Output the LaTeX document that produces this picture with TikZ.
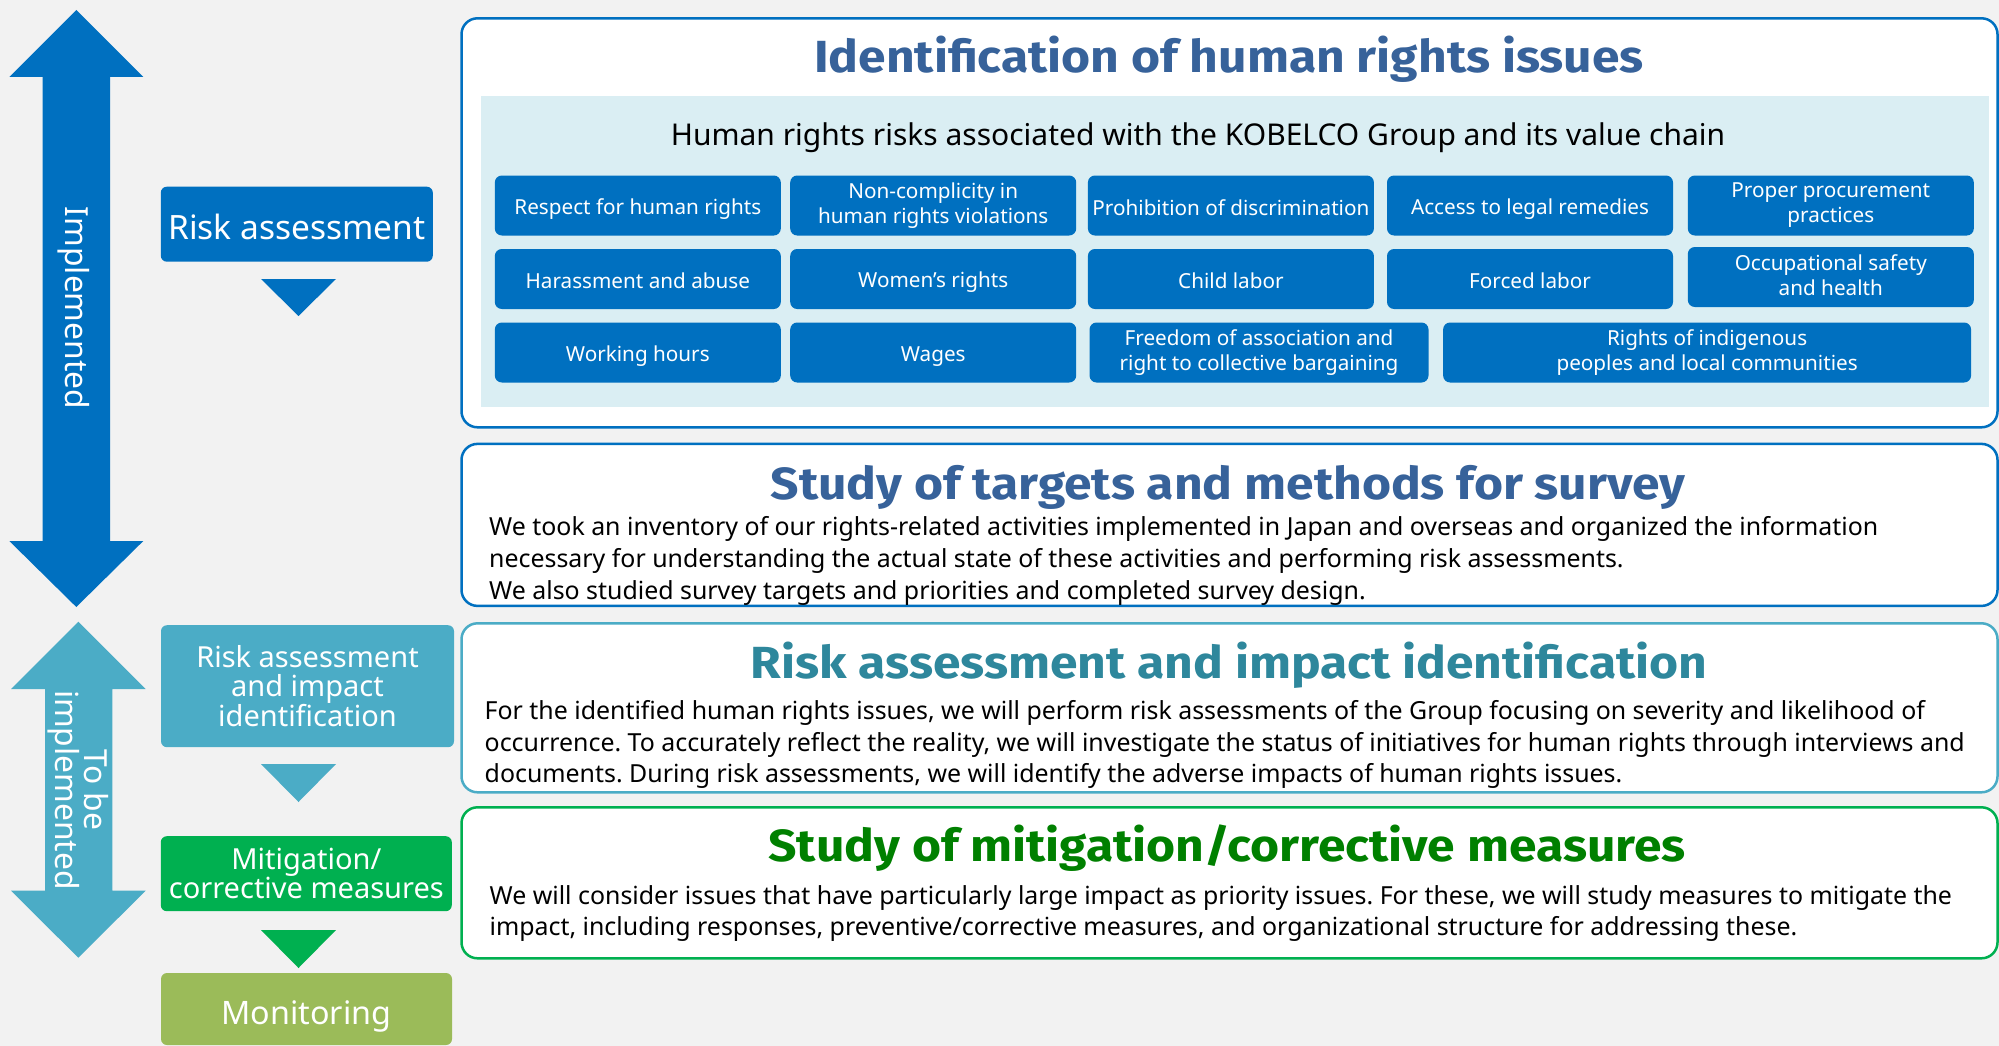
\documentclass[tikz,border=0pt]{standalone}
\usepackage{fontspec}
\setmainfont{Noto Sans}
\newfontfamily\headfont[FakeStretch=1.106]{Fira Sans}
\frenchspacing

\definecolor{kbBack}{HTML}{F2F2F2}
\definecolor{kbBlue}{HTML}{0070C0}
\definecolor{kbTitle}{HTML}{37629A}
\definecolor{kbPanel}{HTML}{DAEEF3}
\definecolor{kbAqua}{HTML}{4BACC6}
\definecolor{kbAquaDark}{HTML}{2E879C}
\definecolor{kbGreen}{HTML}{00B050}
\definecolor{kbGreenDark}{HTML}{008000}
\definecolor{kbOlive}{HTML}{9BBB59}

% fixed line height for the item labels
\newcommand{\itemstrut}{\rule[-3pt]{0pt}{25pt}}
% taller first line for the stage labels
\newcommand{\stagestrut}{\rule{0pt}{0.93em}}

\tikzset{
  infoframe/.style={
    rectangle, draw, line width=2.5pt, fill=white,
    rounded corners=16pt, minimum width=1536pt, inner sep=0pt
  },
  itembox/.style={
    rectangle, fill=kbBlue, text=white, rounded corners=7pt,
    minimum width=286pt, minimum height=60pt, inner sep=0pt,
    align=center, font=\fontsize{20.7}{25}\selectfont,
    execute at begin node=\itemstrut, execute at end node=\itemstrut
  },
  stagebox/.style={
    rectangle, text=white, rounded corners=6pt, inner sep=0pt,
    align=center, font=\fontsize{29}{28.6}\selectfont,
    execute at begin node=\stagestrut
  },
  arrowlabel/.style={
    rotate=-90, text=white, inner sep=0pt, align=center,
    font=\fontsize{31.8}{29}\selectfont
  },
  headline/.style={
    anchor=base, inner sep=0pt,
    font=\headfont\bfseries\fontsize{45}{52}\selectfont
  },
  copytext/.style={
    anchor=base west, inner sep=0pt, align=left,
    font=\fontsize{24.9}{31.7}\selectfont
  }
}

\begin{document}
\begin{tikzpicture}[x=1pt, y=-1pt]
    \useasboundingbox (0,0) rectangle (1999,1046);
    \fill[kbBack] (0,0) rectangle (1999,1046);

    % Status arrows
    \fill[kbBlue] (76.3,10) -- (143.3,77) -- (110,77) -- (110,541) -- (143.3,541)
        -- (76.3,607) -- (9.3,541) -- (42.7,541) -- (42.7,77) -- (9.3,77) -- cycle;
    \node[arrowlabel] (done) at (74,308) {Implemented};
    \fill[kbAqua] (78.3,621.7) -- (145.7,689) -- (112.3,689) -- (112.3,890.7) -- (145.7,890.7)
        -- (78.3,957.7) -- (11,890.7) -- (45,890.7) -- (45,689) -- (11,689) -- cycle;
    \node[arrowlabel] (todo) at (78,790) {To be\\implemented};

    % Stages
    \node[stagebox, fill=kbBlue, minimum width=272pt, minimum height=75pt,
          font=\fontsize{33.5}{36}\selectfont] (ra) at (296.8,224.2) {Risk assessment};
    \node[stagebox, fill=kbAqua, minimum width=293pt, minimum height=122pt] (rai) at (307.5,686.2)
        {Risk assessment\\and impact\\identification};
    \node[stagebox, fill=kbGreen, minimum width=291pt, minimum height=75pt] (mit) at (306.3,873.7)
        {Mitigation/\\corrective measures};
    \node[stagebox, fill=kbOlive, minimum width=291pt, minimum height=72pt, text height=31pt, text depth=0pt,
          font=\fontsize{32.3}{35}\selectfont] (mon) at (306.5,1009) {Monitoring};

    % Chevrons between stages
    \fill[kbBlue] (261,279) -- (336,279) -- (298.5,316) -- cycle;
    \fill[kbAqua] (261,764) -- (336,764) -- (298.5,802) -- cycle;
    \fill[kbGreen] (261,930) -- (336,930) -- (298.5,968) -- cycle;

    % Identification of human rights issues
    \node[infoframe, draw=kbBlue, minimum height=409pt] (idbox) at (1229.5,222.8) {};
    \node[fill=kbPanel, minimum width=1508pt, minimum height=311pt, inner sep=0pt] (panel) at (1234.6,251.4) {};
    \node[headline, text=kbTitle] (idtitle) at (1229,72.7) {Identification of human rights issues};
    \node[anchor=base, inner sep=0pt, font=\fontsize{30}{32}\selectfont] (risks) at (1198,145.7)
        {Human rights risks associated with the KOBELCO Group and its value chain};

    \node[itembox] (respect) at (637.8,205.5) {Respect for human rights};
    \node[itembox] (complicity) at (933.2,205.5) {Non-complicity in\\human rights violations};
    \node[itembox] (discrim) at (1230.9,205.5) {Prohibition of discrimination};
    \node[itembox] (remedies) at (1530,205.5) {Access to legal remedies};
    \node[itembox] (procure) at (1830.8,205.5) {Proper procurement\\practices};

    \node[itembox] (harass) at (637.8,279) {Harassment and abuse};
    \node[itembox] (women) at (933.2,279) {Women’s rights};
    \node[itembox] (child) at (1230.9,279) {Child labor};
    \node[itembox] (forced) at (1530,279) {Forced labor};
    \node[itembox] (safety) at (1830.8,277) {Occupational safety\\and health};

    \node[itembox] (hours) at (637.8,352.5) {Working hours};
    \node[itembox] (wages) at (933.2,352.5) {Wages};
    \node[itembox, minimum width=339pt] (assoc) at (1259,352.5) {Freedom of association and\\right to collective bargaining};
    \node[itembox, minimum width=528pt] (indig) at (1707.1,352.5) {Rights of indigenous\\peoples and local communities};

    % Study of targets and methods
    \node[infoframe, draw=kbBlue, minimum height=162pt] (studybox) at (1229.5,524.9) {};
    \node[headline, text=kbTitle] (studytitle) at (1228,499.3) {Study of targets and methods for survey};
    \node[copytext] (studytext) at (489,599.3)
        {We took an inventory of our rights-related activities implemented in Japan and overseas and organized the information\\
         necessary for understanding the actual state of these activities and performing risk assessments.\\
         We also studied survey targets and priorities and completed survey design.};

    % Risk assessment and impact identification
    \node[infoframe, draw=kbAqua, minimum height=169pt] (riskbox) at (1229.5,707.8) {};
    \node[headline, text=kbAquaDark] (risktitle) at (1229,678.3) {Risk assessment and impact identification};
    \node[copytext] (risktext) at (484.5,782.7)
        {For the identified human rights issues, we will perform risk assessments of the Group focusing on severity and likelihood of\\
         occurrence. To accurately reflect the reality, we will investigate the status of initiatives for human rights through interviews and\\
         documents. During risk assessments, we will identify the adverse impacts of human rights issues.};

    % Mitigation and corrective measures
    \node[infoframe, draw=kbGreen, minimum height=151pt] (mitbox) at (1229.5,882.8) {};
    \node[headline, text=kbGreenDark] (mittitle) at (1227,861.7) {Study of mitigation/corrective measures};
    \node[copytext] (mittext) at (489.4,935.7)
        {We will consider issues that have particularly large impact as priority issues. For these, we will study measures to mitigate the\\
         impact, including responses, preventive/corrective measures, and organizational structure for addressing these.};

\end{tikzpicture}
\end{document}
